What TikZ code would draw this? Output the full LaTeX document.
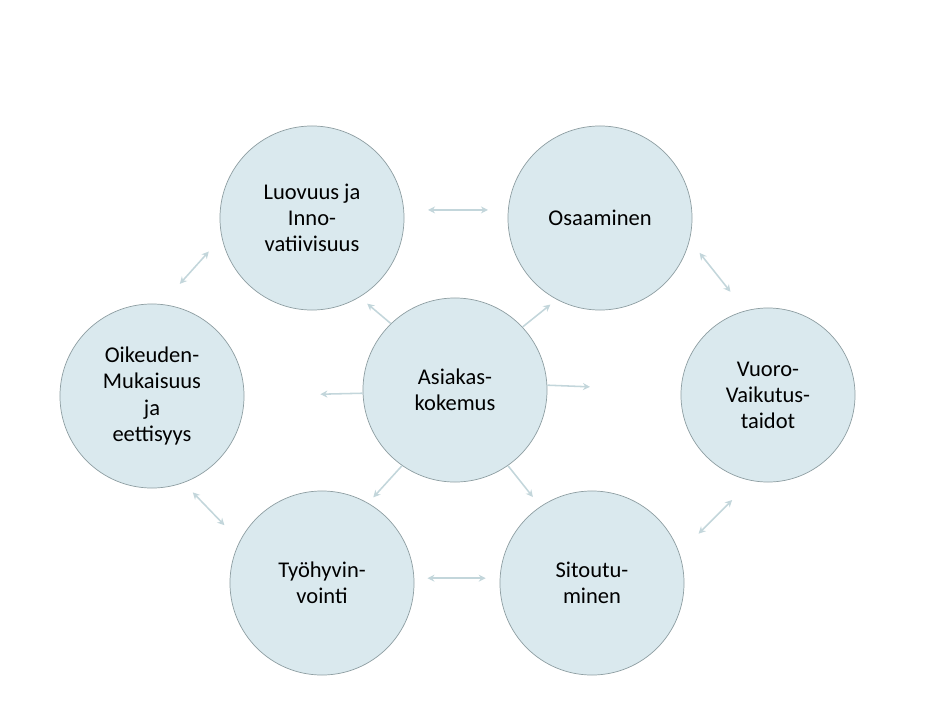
\documentclass[tikz,border=0pt]{standalone}
\usepackage{fontspec}
\setmainfont{Carlito}
\usetikzlibrary{arrows.meta}

\definecolor{discfill}{HTML}{DAE9EE}
\definecolor{discline}{HTML}{8E9EA2}
\definecolor{linkcol}{HTML}{C3D6DB}

\tikzset{
    disc/.style={circle, draw=discline, fill=discfill, line width=0.5pt, minimum size=4.6cm, inner sep=0pt, align=center, font=\fontsize{16}{18.5}\selectfont},
    tip/.tip={Stealth[length=5pt, width=5pt]},
    link/.style={linkcol, line width=1.1pt, tip-tip},
    spoke/.style={linkcol, line width=1.1pt, -tip}
}

\begin{document}
\begin{tikzpicture}[x=0.025cm, y=-0.025cm]
        \useasboundingbox (0, 0) rectangle (941, 718);

        \node[disc](luov) at (312, 218) {Luovuus ja\\Inno-\\vatiivisuus};
        \node[disc](osaa) at (600, 218) {Osaaminen};
        \node[disc](oike) at (152, 396) {Oikeuden-\\Mukaisuus\\ja\\eettisyys};
        \node[disc](asia) at (455, 390) {Asiakas-\\kokemus};
        \node[disc, minimum size=4.35cm](vuor) at (768, 395) {Vuoro-\\Vaikutus-\\taidot};
        \node[disc](tyoh) at (322, 583) {Työhyvin-\\vointi};
        \node[disc](sito) at (592, 583) {Sitoutu-\\minen};

        % from the centre outwards
        \draw[spoke, shorten >=0.25cm] (asia.134) to (luov.-59);
        \draw[spoke, shorten >=0.2cm] (asia.43) to (osaa.-118);
        \draw[spoke, shorten >=1.9cm] (asia.182) to (oike.0);
        \draw[spoke, shorten >=2.27cm] (asia.3) to (vuor.177);
        \draw[spoke, shorten >=0.19cm] (asia.235) to (tyoh.60);
        \draw[spoke, shorten >=0.3cm] (asia.-55) to (sito.124);

        % round the ring
        \draw[link, shorten <=0.6cm, shorten >=0.5cm] (luov.5) to (osaa.175);
        \draw[link, shorten <=0.4cm, shorten >=0.6cm] (osaa.-14) to (vuor.105);
        \draw[link, shorten <=0.68cm, shorten >=0.68cm] (vuor.-101) to (sito.19);
        \draw[link, shorten <=0.35cm, shorten >=0.33cm] (sito.177) to (tyoh.3);
        \draw[link, shorten <=0.55cm, shorten >=0.33cm] (tyoh.153) to (oike.-70);
        \draw[link, shorten <=0.68cm, shorten >=0.48cm] (oike.84) to (luov.192);
\end{tikzpicture}
\end{document}
